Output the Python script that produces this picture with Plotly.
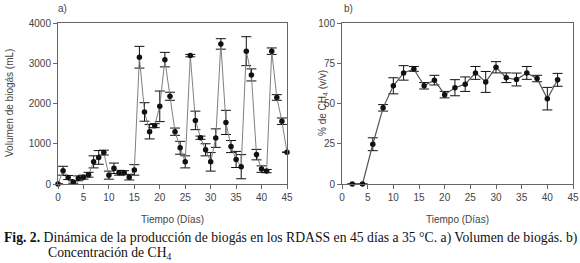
import plotly.graph_objects as go

# Panel a) biogas volume
days_a = list(range(0, 46))
vol = [0, 330, 160, 50, 140, 170, 230, 550, 660, 780,
       220, 390, 280, 280, 170, 350, 3150, 1790, 1300, 1450,
       1930, 3090, 2180, 1300, 900, 550, 3190, 1580, 1150, 850,
       550, 1140, 3480, 1530, 930, 610, 430, 3300, 2710, 730,
       370, 320, 3300, 2150, 1560, 790]
vol_err = [0, 110, 50, 30, 60, 50, 60, 150, 170, 60,
           100, 130, 60, 50, 70, 130, 270, 230, 180, 50,
           380, 180, 100, 90, 160, 150, 30, 230, 40, 150,
           230, 230, 130, 300, 150, 200, 300, 360, 150, 130,
           80, 40, 80, 70, 80, 0]

# Panel b) methane concentration
days_b = [2, 4, 6, 8, 10, 12, 14, 16, 18, 20, 22, 24, 26, 28, 30, 32, 34, 36, 38, 40, 42]
ch4 = [0, 0, 24.7, 47.3, 61, 69, 71.5, 61, 64.5, 55.5, 59.8, 62, 69, 63.4, 72.5, 66, 64.9, 69, 65.5, 53, 64.7]
ch4_err = [0, 0, 4, 2, 5, 4.5, 1.5, 2, 3, 2, 5, 4.5, 4, 6.5, 3.5, 3, 4, 4, 2, 7, 4]

xticks = [0, 5, 10, 15, 20, 25, 30, 35, 40, 45]
yticks_a = [0, 1000, 2000, 3000, 4000]
yticks_b = [0, 25, 50, 75, 100]

W, H = 580, 263
fig = go.Figure()

fig.add_trace(go.Scatter(
    x=days_a, y=vol, mode="lines+markers",
    line=dict(color="#808080", width=1),
    marker=dict(color="#111111", size=5.5),
    error_y=dict(type="data", array=vol_err, color="#111111", thickness=1, width=5),
    xaxis="x", yaxis="y", cliponaxis=False, showlegend=False))

fig.add_trace(go.Scatter(
    x=days_b, y=ch4, mode="lines+markers",
    line=dict(color="#555555", width=1.2),
    marker=dict(color="#111111", size=5.5),
    error_y=dict(type="data", array=ch4_err, color="#111111", thickness=1, width=5),
    xaxis="x2", yaxis="y2", cliponaxis=False, showlegend=False))

axfont = dict(family="Liberation Sans, Arial", size=10, color="#444444")
common = dict(showgrid=False, zeroline=False, showline=True, mirror=True,
              linecolor="#666666", linewidth=1, ticks="outside", ticklen=4,
              tickcolor="#666666", tickfont=axfont, automargin=False)

y0 = 1 - 184 / H
y1 = 1 - 23 / H

fig.update_layout(
    width=W, height=H, margin=dict(l=0, r=0, t=0, b=0, autoexpand=False),
    paper_bgcolor="white", plot_bgcolor="white",
    xaxis=dict(domain=[58 / W, 287 / W], range=[0, 45], tickvals=xticks, anchor="y", **common),
    yaxis=dict(domain=[y0, y1], range=[0, 4000], tickvals=yticks_a, anchor="x", **common),
    xaxis2=dict(domain=[342 / W, 573 / W], range=[0, 45], tickvals=xticks, anchor="y2", **common),
    yaxis2=dict(domain=[y0, y1], range=[0, 100], tickvals=yticks_b, anchor="x2", **common),
)

def px_x(p):
    return p / W

def px_y(p):
    return 1 - p / H

capfont = dict(family="Liberation Serif, Times New Roman", size=13.7, color="#111111")
ann = [
    dict(text="a)", x=px_x(56), y=px_y(9), xanchor="left", yanchor="middle", font=axfont),
    dict(text="b)", x=px_x(342), y=px_y(9), xanchor="left", yanchor="middle", font=axfont),
    dict(text="Volumen de biogás (mL)", x=px_x(9), y=px_y(103), textangle=-90,
         xanchor="center", yanchor="middle", font=axfont),
    dict(text="% de CH<sub>4</sub> (v/v)", x=px_x(323), y=px_y(103), textangle=-90,
         xanchor="center", yanchor="middle", font=axfont),
    dict(text="Tiempo (Días)", x=px_x(172), y=px_y(219), xanchor="center", yanchor="middle", font=axfont),
    dict(text="Tiempo (Días)", x=px_x(457), y=px_y(219), xanchor="center", yanchor="middle", font=axfont),
    dict(text="<b>Fig. 2.</b> Dinámica de la producción de biogás en los RDASS en 45 días a 35 °C. a) Volumen de biogás. b)",
         x=px_x(2), y=px_y(238), xanchor="left", yanchor="middle", font=capfont),
    dict(text="Concentración de CH<sub>4</sub>",
         x=px_x(46), y=px_y(253), xanchor="left", yanchor="middle", font=capfont),
]
for a in ann:
    a.update(xref="paper", yref="paper", showarrow=False)
fig.update_layout(annotations=ann)

fig.write_html("out.html", config={"displayModeBar": False},
               post_script="document.body.style.margin='0';document.body.style.overflow='hidden';")
